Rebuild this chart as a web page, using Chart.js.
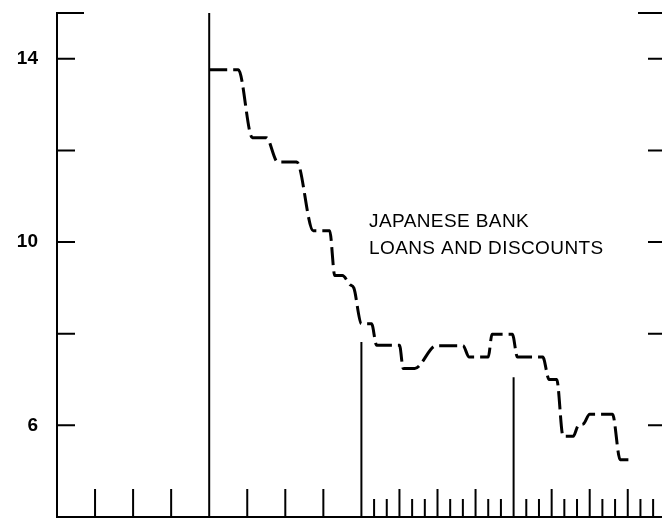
<!DOCTYPE html>
<html>
<head>
<meta charset="utf-8">
<title>Japanese Bank Loans and Discounts</title>
<script src="https://cdn.jsdelivr.net/npm/chart.js"></script>
<style>
  html, body { margin: 0; padding: 0; background: #fff; }
  #loansChart { display: block; }
</style>
</head>
<body>
<canvas id="loansChart" width="662" height="518"></canvas>
<script>
// Series: months from the left axis, and the value
const loanMonths = [
  12, 14.3, 15.4, 16.5, 17.4, 18.9, 20.2, 21.5, 21.9, 22.5, 23.1, 23.4,
  24.0, 24.8, 25.2, 27.0, 27.3, 28.2, 29.9, 32.0, 32.5, 34.0, 34.3, 35.9,
  36.3, 38.3, 38.8, 39.4, 39.9, 40.7, 41.1, 41.5, 42.0, 43.8, 44.4, 45.2,
];
const loanValues = [
  13.76, 13.76, 12.28, 12.28, 11.75, 11.75, 10.25, 10.25, 9.27, 9.27, 9.07, 9.0,
  8.22, 8.22, 7.75, 7.75, 7.24, 7.24, 7.74, 7.74, 7.49, 7.49, 7.99, 7.99,
  7.49, 7.49, 7.0, 7.0, 5.76, 5.76, 6.0, 6.03, 6.24, 6.24, 5.25, 5.25,
];

// Year divider lines (month, top value)
const yearLineMonths = [12, 24, 36];
const yearLineTops = [15, 7.82, 7.05];

// Axis ticks
const yTicks = [6, 8, 10, 12, 14];
const yLabelled = [6, 10, 14];
const xQuarterTicks = [3, 6, 9, 15, 18, 21, 27, 30, 33, 39, 42, 45];
const xMonthTicks = [25, 26, 28, 29, 31, 32, 34, 35, 37, 38, 40, 41, 43, 44, 46, 47];

const yMin = 4;
const yMax = 15;
const xMin = 0;
const xMax = 47.7;

const labelLines = ["JAPANESE BANK", "LOANS AND DISCOUNTS"];

const canvas = document.getElementById("loansChart");

/**
 * Draws the inward tick marks on the frame and the text label
 */
const frameMarks = {
  id: "frameMarks",
  beforeDatasetsDraw(chart) {
    const { ctx, chartArea, scales } = chart;
    const { x, y } = scales;
    ctx.save();
    ctx.strokeStyle = "#000";
    ctx.lineWidth = 2;
    ctx.beginPath();

    // left and right ticks every 2 units
    yTicks.forEach((v) => {
      const py = y.getPixelForValue(v);
      ctx.moveTo(chartArea.left, py);
      ctx.lineTo(chartArea.left + 18, py);
      ctx.moveTo(chartArea.right - 14, py);
      ctx.lineTo(chartArea.right, py);
    });

    // top edge marks
    const top = y.getPixelForValue(yMax);
    ctx.moveTo(chartArea.left, top);
    ctx.lineTo(chartArea.left + 27, top);
    ctx.moveTo(chartArea.right - 24, top);
    ctx.lineTo(chartArea.right, top);

    // bottom ticks: quarters taller than months
    xQuarterTicks.forEach((m) => {
      const px = x.getPixelForValue(m);
      ctx.moveTo(px, chartArea.bottom);
      ctx.lineTo(px, chartArea.bottom - 28);
    });
    xMonthTicks.forEach((m) => {
      const px = x.getPixelForValue(m);
      ctx.moveTo(px, chartArea.bottom);
      ctx.lineTo(px, chartArea.bottom - 18);
    });
    ctx.stroke();

    // series label
    ctx.fillStyle = "#000";
    ctx.font = "19px 'Liberation Sans', Arial, sans-serif";
    ctx.letterSpacing = "0.4px";
    ctx.textAlign = "left";
    ctx.textBaseline = "alphabetic";
    const tx = x.getPixelForValue(24.6);
    ctx.fillText(labelLines[0], tx, y.getPixelForValue(10.34));
    ctx.fillText(labelLines[1], tx, y.getPixelForValue(9.73));
    ctx.restore();
  },
};

const loanPoints = loanMonths.map((m, i) => ({ x: m, y: loanValues[i] }));

const yearLineSets = yearLineMonths.map((m, i) => ({
  data: [
    { x: m, y: yMin },
    { x: m, y: yearLineTops[i] },
  ],
  borderColor: "#000",
  borderWidth: 2,
  pointRadius: 0,
  fill: false,
}));

new Chart(canvas.getContext("2d"), {
  type: "line",
  data: {
    datasets: [
      {
        label: "Japanese bank loans and discounts",
        data: loanPoints,
        borderColor: "#000",
        borderWidth: 3,
        borderDash: [18, 6],
        borderCapStyle: "butt",
        cubicInterpolationMode: "monotone",
        pointRadius: 0,
        fill: false,
      },
      ...yearLineSets,
    ],
  },
  options: {
    responsive: false,
    animation: false,
    events: [],
    layout: {
      autoPadding: false,
      padding: { top: 13, right: 0, bottom: 1, left: 0 },
    },
    plugins: {
      legend: { display: false },
      tooltip: { enabled: false },
    },
    scales: {
      x: {
        type: "linear",
        min: xMin,
        max: xMax,
        grid: { display: false },
        ticks: { display: false },
        border: { display: true, color: "#000", width: 2 },
        afterFit: (scale) => {
          scale.height = 0;
          scale.paddingLeft = 0;
          scale.paddingRight = 0;
        },
      },
      y: {
        type: "linear",
        min: yMin,
        max: yMax,
        grid: { display: false, drawTicks: false },
        border: { display: true, color: "#000", width: 2 },
        afterBuildTicks: (scale) => {
          scale.ticks = yTicks.map((v) => ({ value: v }));
        },
        ticks: {
          padding: 19,
          color: "#000",
          font: { family: "'Liberation Sans', Arial, sans-serif", size: 19, weight: "bold" },
          callback: (value) => (yLabelled.includes(value) ? String(value) : ""),
        },
        afterFit: (scale) => {
          scale.width = 57;
          scale.paddingTop = 0;
          scale.paddingBottom = 0;
        },
      },
    },
  },
  plugins: [frameMarks],
});
</script>
</body>
</html>
